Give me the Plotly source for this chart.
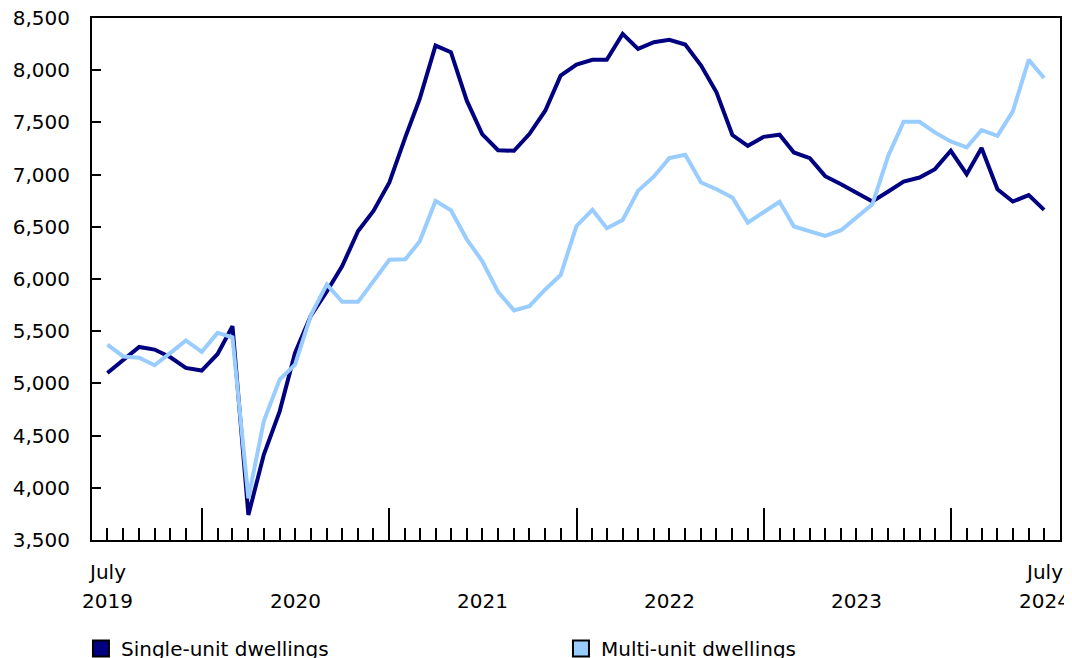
import pandas as pd
import plotly.graph_objects as go

months = pd.date_range("2019-07-01", "2024-07-01", freq="MS")

single_unit = [
    5100, 5228, 5349, 5324, 5250, 5148, 5123, 5282, 5548, 3740,
    4316, 4732, 5292, 5650, 5880, 6124, 6460, 6652, 6924, 7356,
    7724, 8236, 8172, 7708, 7388, 7234, 7228, 7388, 7612, 7948,
    8054, 8099, 8099, 8348, 8204, 8268, 8291, 8246, 8044, 7788,
    7379, 7276, 7362, 7382, 7212, 7158, 6985, 6908, 6825, 6742,
    6838, 6934, 6972, 7052, 7228, 7004, 7254, 6860, 6742, 6803,
    6662,
]
multi_unit = [
    5372, 5258, 5245, 5174, 5292, 5411, 5302, 5484, 5442, 3900,
    4636, 5036, 5180, 5655, 5948, 5781, 5781, 5980, 6185, 6188,
    6359, 6748, 6658, 6380, 6172, 5877, 5699, 5740, 5900, 6038,
    6508, 6662, 6486, 6566, 6844, 6982, 7158, 7190, 6924, 6860,
    6780, 6540, 6636, 6740, 6503, 6455, 6412, 6467, 6588, 6716,
    7180, 7506, 7506, 7404, 7318, 7260, 7427, 7372, 7606, 8099,
    7926,
]

series_names = ["Single-unit dwellings", "Multi-unit dwellings"]
series_colors = ["#000080", "#99CCFF"]

y_ticks = [3500, 4000, 4500, 5000, 5500, 6000, 6500, 7000, 7500, 8000, 8500]
year_ticks = ["2020-01-01", "2021-01-01", "2022-01-01", "2023-01-01", "2024-01-01"]
x_labels = [
    ("2019-07-01", "July", "2019"),
    ("2020-07-01", "", "2020"),
    ("2021-07-01", "", "2021"),
    ("2022-07-01", "", "2022"),
    ("2023-07-01", "", "2023"),
    ("2024-07-01", "July", "2024"),
]

FONT = "DejaVu Sans, Verdana, sans-serif"
FS = 20

fig = go.Figure()
for name, vals, col in zip(series_names, [single_unit, multi_unit], series_colors):
    fig.add_trace(go.Scatter(
        x=months, y=vals, mode="lines", name=name,
        line=dict(color=col, width=4), showlegend=False,
    ))
# legend entries (square swatches)
for name, col in zip(series_names, series_colors):
    fig.add_trace(go.Scatter(
        x=[None], y=[None], mode="markers", name=name,
        marker=dict(symbol="square", size=20, color=col,
                    line=dict(color="black", width=2)),
        showlegend=True,
    ))

annotations = []
for xd, top, bottom in x_labels:
    if top:
        annotations.append(dict(x=xd, y=-0.0613, xref="x", yref="paper", text=top,
                                showarrow=False, xanchor="center", yanchor="middle",
                                font=dict(family=FONT, size=FS, color="black")))
    annotations.append(dict(x=xd, y=-0.1169, xref="x", yref="paper", text=bottom,
                            showarrow=False, xanchor="center", yanchor="middle",
                            font=dict(family=FONT, size=FS, color="black")))

fig.update_layout(
    width=1064, height=650,
    margin=dict(l=84, r=12, t=10, b=118, autoexpand=False),
    paper_bgcolor="white", plot_bgcolor="white",
    font=dict(family=FONT, size=FS, color="black"),
    xaxis=dict(
        range=["2019-06-01", "2024-08-01"], automargin=False,
        showgrid=False, zeroline=False,
        showline=True, linecolor="black", linewidth=2, mirror=True,
        tickmode="array", tickvals=year_ticks, showticklabels=False,
        ticks="inside", ticklen=32, tickwidth=1.5, tickcolor="black",
        minor=dict(ticks="inside", ticklen=12, tickwidth=1.5, tickcolor="black",
                   dtick="M1", tick0="2019-07-01", showgrid=False),
    ),
    yaxis=dict(
        range=[3500, 8500], automargin=False,
        showgrid=False, zeroline=False,
        showline=True, linecolor="black", linewidth=2, mirror=True,
        tickmode="array", tickvals=y_ticks, tickformat=",d",
        ticks="inside", ticklen=9, tickwidth=1.5, tickcolor="black",
        ticklabelstandoff=16, ticklabeloverflow="allow",
    ),
    legend=dict(
        orientation="h", x=-0.0114, xanchor="left", y=-0.1706, yanchor="top",
        entrywidth=435, entrywidthmode="pixels",
        font=dict(family=FONT, size=FS, color="black"),
        bgcolor="rgba(0,0,0,0)",
    ),
    annotations=annotations,
)

fig.write_html("out.html")
